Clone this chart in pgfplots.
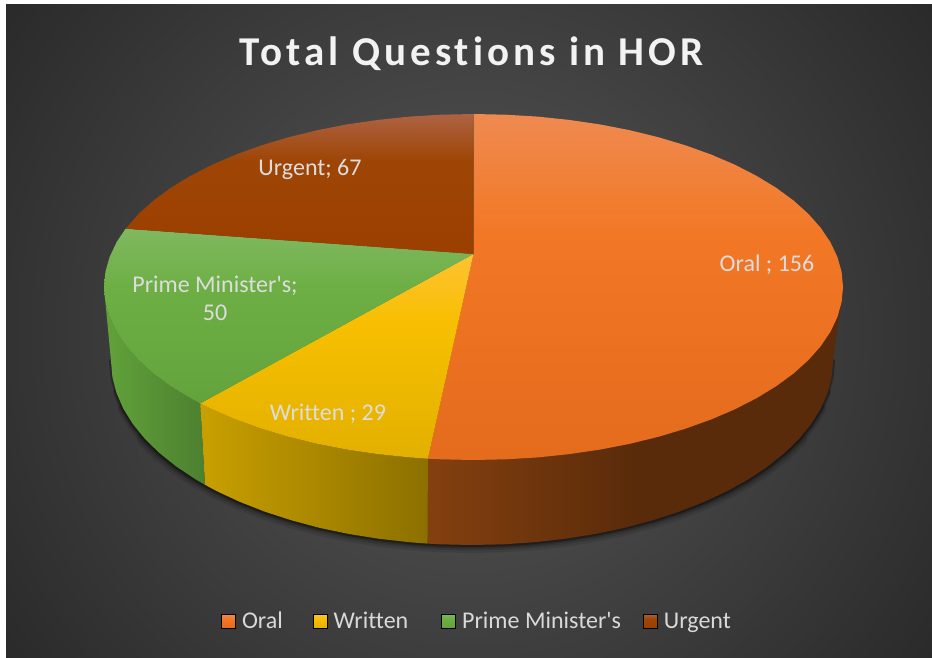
\documentclass[border=0pt]{standalone}
\usepackage{pgfplots}
\pgfplotsset{compat=1.18}
\usepackage{fontspec}
\setmainfont{Carlito}[Ligatures=NoCommon]
\newfontfamily\carl{Carlito}[Ligatures=NoCommon]
\newfontfamily\titlefont{Carlito}[LetterSpace=9.8,Ligatures=NoCommon]
\definecolor{bgc}{HTML}{585858}
\definecolor{bgo}{HTML}{2A2A2A}
\pgfdeclareradialshading{bgrad}{\pgfpoint{0bp}{0bp}}{color(0bp)=(bgc); color(25bp)=(bgo); color(50bp)=(bgo)}
\definecolor{oa}{HTML}{EF8A50}\definecolor{ob}{HTML}{F27826}\definecolor{oc}{HTML}{E56B1D}
\definecolor{ya}{HTML}{FFC233}\definecolor{yb}{HTML}{F7BF00}\definecolor{yc}{HTML}{E2B000}
\definecolor{ga}{HTML}{80B860}\definecolor{gb}{HTML}{6DAF44}\definecolor{gc}{HTML}{63A33C}
\definecolor{ua}{HTML}{AD6242}\definecolor{ub}{HTML}{9E4505}\definecolor{uc}{HTML}{9C3F00}
\definecolor{oside}{HTML}{84400F}\definecolor{osider}{HTML}{5A2B0A}
\definecolor{yside}{HTML}{8C7000}\definecolor{ysider}{HTML}{C9A000}
\definecolor{gside}{HTML}{62A23A}\definecolor{gsider}{HTML}{4C8030}
\definecolor{labc}{HTML}{DDDDDD}
\definecolor{legc}{HTML}{D9D9D9}
\pgfdeclareverticalshading{oshade}{100bp}{color(0bp)=(oc); color(25bp)=(oc); color(58bp)=(ob); color(75bp)=(oa); color(100bp)=(oa)}
\pgfdeclareverticalshading{yshade}{100bp}{color(0bp)=(yc); color(25bp)=(yc); color(58bp)=(yb); color(75bp)=(ya); color(100bp)=(ya)}
\pgfdeclareverticalshading{gshade}{100bp}{color(0bp)=(gc); color(25bp)=(gc); color(58bp)=(gb); color(75bp)=(ga); color(100bp)=(ga)}
\pgfdeclareverticalshading{ushade}{100bp}{color(0bp)=(uc); color(25bp)=(uc); color(58bp)=(ub); color(75bp)=(ua); color(100bp)=(ua)}
\tikzset{
 oralt/.style={shading=oshade},
 writ/.style={shading=yshade},
 prim/.style={shading=gshade},
 urg/.style={shading=ushade},
 lab/.style={font=\carl\fontsize{24}{28}\selectfont,text=labc,align=center,inner sep=0pt},
 shad/.style={draw=black,line cap=round,line join=round},
}
\newcommand{\legstrut}{\rule[-6pt]{0pt}{22pt}}
\begin{document}
\begin{tikzpicture}[x=1pt,y=1pt]
\path[use as bounding box] (-6,0) rectangle (926,658);
\begin{axis}[
  at={(0,0)},anchor=south west,
  scale only axis,width=926pt,height=654pt,
  xmin=6,xmax=932,ymin=4,ymax=658,y dir=reverse,
  hide axis,clip=true,
  legend columns=-1,
  legend cell align=left,
  legend style={at={(axis cs:477,621)},anchor=center,draw=none,fill=none,
    font=\carl\fontsize{24}{28}\selectfont,text=legc,inner sep=0pt,
    /tikz/every even column/.append style={column sep=0pt},
    /tikz/every odd column/.append style={column sep=4.5pt}},
]
% background
\addplot[draw=none,shading=bgrad,forget plot] coordinates {(-99,-237)(1037,-237)(1037,899)(-99,899)};
% soft shadow below the pie
\addplot[shad,forget plot,line width=16pt,opacity=0.10] coordinates {(799.2,438.8)(784.6,453.0)(767.7,466.5)(748.5,479.3)(727.3,491.1)(704.1,501.9)(679.1,511.7)(652.5,520.3)(624.6,527.8)(595.5,533.9)(565.4,538.7)(534.7,542.2)(503.5,544.3)(472,545)(440.5,544.3)(409.3,542.2)(378.6,538.7)(348.5,533.9)(319.4,527.8)(291.5,520.3)(264.9,511.7)(239.9,501.9)(216.7,491.1)(195.5,479.3)(176.3,466.5)(159.4,453.0)(144.8,438.8)};
\addplot[shad,forget plot,line width=11pt,opacity=0.13] coordinates {(820.7,408.6)(811.2,423.9)(799.2,438.8)(784.6,453.0)(767.7,466.5)(748.5,479.3)(727.3,491.1)(704.1,501.9)(679.1,511.7)(652.5,520.3)(624.6,527.8)(595.5,533.9)(565.4,538.7)(534.7,542.2)(503.5,544.3)(472,545)(440.5,544.3)(409.3,542.2)(378.6,538.7)(348.5,533.9)(319.4,527.8)(291.5,520.3)(264.9,511.7)(239.9,501.9)(216.7,491.1)(195.5,479.3)(176.3,466.5)(159.4,453.0)(144.8,438.8)(132.8,423.9)(123.3,408.6)};
\addplot[shad,forget plot,line width=7pt,opacity=0.18] coordinates {(827.5,392.9)(820.7,408.6)(811.2,423.9)(799.2,438.8)(784.6,453.0)(767.7,466.5)(748.5,479.3)(727.3,491.1)(704.1,501.9)(679.1,511.7)(652.5,520.3)(624.6,527.8)(595.5,533.9)(565.4,538.7)(534.7,542.2)(503.5,544.3)(472,545)(440.5,544.3)(409.3,542.2)(378.6,538.7)(348.5,533.9)(319.4,527.8)(291.5,520.3)(264.9,511.7)(239.9,501.9)(216.7,491.1)(195.5,479.3)(176.3,466.5)(159.4,453.0)(144.8,438.8)(132.8,423.9)(123.3,408.6)(116.5,392.9)};
\addplot[shad,forget plot,line width=4pt,opacity=0.30] coordinates {(833,361)(831.6,377.0)(827.5,392.9)(820.7,408.6)(811.2,423.9)(799.2,438.8)(784.6,453.0)(767.7,466.5)(748.5,479.3)(727.3,491.1)(704.1,501.9)(679.1,511.7)(652.5,520.3)(624.6,527.8)(595.5,533.9)(565.4,538.7)(534.7,542.2)(503.5,544.3)(472,545)(440.5,544.3)(409.3,542.2)(378.6,538.7)(348.5,533.9)(319.4,527.8)(291.5,520.3)(264.9,511.7)(239.9,501.9)(216.7,491.1)(195.5,479.3)(176.3,466.5)(159.4,453.0)(144.8,438.8)(132.8,423.9)(123.3,408.6)(116.5,392.9)(112.4,377.0)(111,361)};
% sides
\addplot[draw=none,left color=oside,right color=osider,middle color=osider,forget plot] coordinates {
(843.0,287.0)(841.6,302.1)(837.4,317.0)(830.4,331.8)(820.7,346.2)(808.4,360.1)(793.5,373.5)(776.2,386.2)(756.5,398.2)(734.8,409.3)(711.0,419.5)(685.4,428.7)(658.3,436.8)(629.7,443.8)(599.9,449.6)(569.1,454.1)(537.6,457.4)(505.7,459.3)(473.5,460.0)(441.3,459.3)(427.9,458.7)
(427.5,543.6)(440.5,544.3)(472,545)(503.5,544.3)(534.7,542.2)(565.4,538.7)(595.5,533.9)(624.6,527.8)(652.5,520.3)(679.1,511.7)(704.1,501.9)(727.3,491.1)(748.5,479.3)(767.7,466.5)(784.6,453.0)(799.2,438.8)(811.2,423.9)(820.7,408.6)(827.5,392.9)(831.6,377.0)(833,361)};
\addplot[draw=none,left color=ysider,right color=yside,forget plot] coordinates {
(427.9,458.7)(409.4,457.4)(377.9,454.1)(347.1,449.6)(317.3,443.8)(288.7,436.8)(261.6,428.7)(236.0,419.5)(212.2,409.3)(200.2,403.4)
(205,484.8)(216.7,491.1)(239.9,501.9)(264.9,511.7)(291.5,520.3)(319.4,527.8)(348.5,533.9)(378.6,538.7)(409.3,542.2)(427.5,543.6)};
\addplot[draw=none,left color=gside,right color=gsider,forget plot] coordinates {
(200.2,403.4)(190.5,398.2)(170.8,386.2)(153.5,373.5)(138.6,360.1)(126.3,346.2)(116.6,331.8)(109.6,317.0)(105.4,302.1)(104.0,287.0)
(111,361)(112.4,377.0)(116.5,392.9)(123.3,408.6)(132.8,423.9)(144.8,438.8)(159.4,453.0)(176.3,466.5)(195.5,479.3)(205,484.8)};
% top faces
\addplot[draw=none,oralt,forget plot] coordinates {
(473.5,254)(473.5,114.0)(505.7,114.7)(537.6,116.6)(569.1,119.9)(599.9,124.4)(629.7,130.2)(658.3,137.2)(685.4,145.3)(711.0,154.5)(734.8,164.7)(756.5,175.8)(776.2,187.8)(793.5,200.5)(808.4,213.9)(820.7,227.8)(830.4,242.2)(837.4,257.0)(841.6,271.9)(843.0,287.0)(841.6,302.1)(837.4,317.0)(830.4,331.8)(820.7,346.2)(808.4,360.1)(793.5,373.5)(776.2,386.2)(756.5,398.2)(734.8,409.3)(711.0,419.5)(685.4,428.7)(658.3,436.8)(629.7,443.8)(599.9,449.6)(569.1,454.1)(537.6,457.4)(505.7,459.3)(473.5,460.0)(441.3,459.3)(427.9,458.7)};
\addplot[draw=none,writ,forget plot] coordinates {
(473.5,254)(427.9,458.7)(409.4,457.4)(377.9,454.1)(347.1,449.6)(317.3,443.8)(288.7,436.8)(261.6,428.7)(236.0,419.5)(212.2,409.3)(200.2,403.4)};
\addplot[draw=none,prim,forget plot] coordinates {
(473.5,254)(200.2,403.4)(190.5,398.2)(170.8,386.2)(153.5,373.5)(138.6,360.1)(126.3,346.2)(116.6,331.8)(109.6,317.0)(105.4,302.1)(104.0,287.0)(105.4,271.9)(109.6,257.0)(116.6,242.2)(125.6,228.7)};
\addplot[draw=none,urg,forget plot] coordinates {
(473.5,254)(125.6,228.7)(138.6,213.9)(153.5,200.5)(170.8,187.8)(190.5,175.8)(212.2,164.7)(236.0,154.5)(261.6,145.3)(288.7,137.2)(317.3,130.2)(347.1,124.4)(377.9,119.9)(409.4,116.6)(441.3,114.7)(473.5,114.0)};
% legend
\addlegendimage{legend image code/.code={\shade[oralt] (0pt,-7pt) rectangle (14pt,7pt);}}
\addlegendentry{\legstrut Oral\rule{28pt}{0pt}}
\addlegendimage{legend image code/.code={\shade[writ] (0pt,-7pt) rectangle (14pt,7pt);}}
\addlegendentry{\legstrut Written\rule{31pt}{0pt}}
\addlegendimage{legend image code/.code={\shade[prim] (0pt,-7pt) rectangle (14pt,7pt);}}
\addlegendentry{\legstrut Prime Minister's\rule{20pt}{0pt}}
\addlegendimage{legend image code/.code={\shade[urg] (0pt,-7pt) rectangle (14pt,7pt);}}
\addlegendentry{\legstrut Urgent}
% labels
\node[lab] at (axis cs:767,265) {Oral ; 156};
\node[lab] at (axis cs:328,414) {Written ; 29};
\node[lab] at (axis cs:215,298) {Prime Minister's;\\50};
\node[lab] at (axis cs:310,169.5) {Urgent; 67};
\node[inner sep=0pt,text=white!95!black] at (axis cs:471.5,53.5) {\titlefont\fontsize{41}{48}\selectfont\bfseries Total Questions in HOR};
\end{axis}
\end{tikzpicture}
\end{document}
